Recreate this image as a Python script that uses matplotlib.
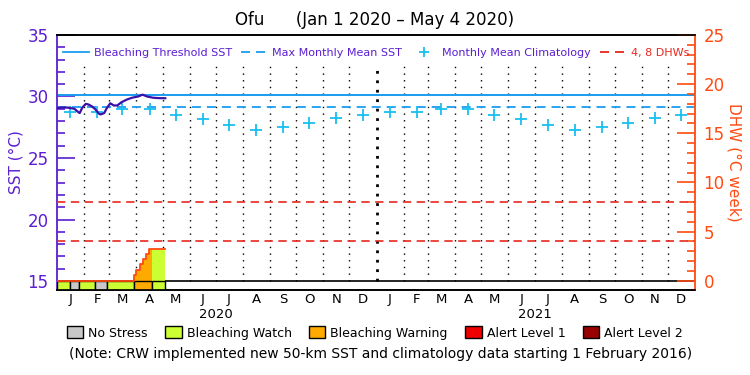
import numpy as np
import matplotlib
matplotlib.use('Agg')
import matplotlib.pyplot as plt
import matplotlib.dates as mdates
import matplotlib.transforms as mtransforms
from matplotlib.patches import Patch
from matplotlib.lines import Line2D

# colours
purple = '#5B1ED2'
sst_col = '#3C10A8'
blue = '#1A9CF0'
cyan = '#18C0F0'
red = '#E8281E'
orange_axis = '#FF4A12'

start = np.datetime64('2020-01-01')

# daily SST trace (days after Jan 1 2020)
sst_days = [0, 4, 8, 12, 16, 20, 24, 26, 29, 33, 36, 40, 44, 48, 50, 54, 57, 61,
            65, 69, 74, 80, 86, 93, 98, 103, 110, 116, 122, 124]
sst_vals = [29.05, 29.1, 29.1, 29.1, 29.05, 29.0, 28.75, 28.65, 29.1, 29.4, 29.35,
            29.2, 28.95, 28.6, 28.54, 28.65, 29.05, 29.45, 29.27, 29.27, 29.54,
            29.75, 29.9, 30.0, 30.15, 30.0, 29.9, 29.87, 29.86, 29.86]

bleach_threshold = 30.12
mmm = 29.12
dhw_levels = [4, 8]

# monthly mean climatology, mid-month, Jan 2020 .. Dec 2021
clim_months = np.arange('2020-01', '2022-01', dtype='datetime64[M]')
clim_vals = [28.73, 28.76, 29.02, 28.95, 28.52, 28.14, 27.65, 27.3, 27.51, 27.82, 28.24, 28.53,
             28.73, 28.76, 29.02, 28.95, 28.52, 28.14, 27.65, 27.3, 27.51, 27.82, 28.24, 28.53]

# degree heating weeks
dhw_dates = ['2020-01-01', '2020-03-29', '2020-04-01', '2020-04-05', '2020-04-08',
             '2020-04-12', '2020-04-15', '2020-04-19', '2020-05-04']
dhw_vals = [0, 0.6, 1.1, 1.7, 2.25, 2.75, 3.25, 3.25, 3.25]

# alert status bar
status_start = ['2020-01-01', '2020-01-16', '2020-01-26', '2020-02-13', '2020-02-27', '2020-03-29', '2020-04-19']
status_end = ['2020-01-16', '2020-01-26', '2020-02-13', '2020-02-27', '2020-03-29', '2020-04-19', '2020-05-04']
status_level = [1, 0, 1, 0, 1, 2, 1]

status_names = ['No Stress', 'Bleaching Watch', 'Bleaching Warning', 'Alert Level 1', 'Alert Level 2']
status_colors = ['#C8C8C8', '#CCFF33', '#FFAA00', '#EE0000', '#990000']

fig = plt.figure(figsize=(7.5, 3.75), dpi=100)
ax = fig.add_axes([0.076, 0.2267, 0.851, 0.68])
ax2 = ax.twinx()

sst_x = mdates.date2num(start + np.array(sst_days).astype('timedelta64[D]'))
clim_x = mdates.date2num(clim_months.astype('datetime64[D]') + np.timedelta64(15, 'D'))
dhw_x = mdates.date2num(np.array(dhw_dates, dtype='datetime64[D]'))
dhw_y = np.array(dhw_vals)

x0 = mdates.date2num(np.datetime64('2020-01-01'))
x1 = mdates.date2num(np.datetime64('2022-01-01'))
ax.set_xlim(x0, x1)
ax.set_ylim(14.27, 35)
ax2.set_ylim(-0.94, 25)

# month grid
month_starts = mdates.date2num(np.arange('2020-02', '2022-01', dtype='datetime64[M]').astype('datetime64[D]'))
new_year = mdates.date2num(np.datetime64('2021-01-01'))
for m in month_starts:
    if abs(m - new_year) < 1:
        ax.vlines(m, 15, 32.5, colors='k', linestyles=(0, (1, 2.4)), lw=2.0, zorder=1)
    else:
        ax.vlines(m, 15, 32.5, colors='k', linestyles=(0, (1, 3.8)), lw=1.0, zorder=1)

ax.axhline(bleach_threshold, color=blue, lw=1.4, zorder=2)
ax.axhline(mmm, color=blue, lw=1.3, dashes=(5, 3.3), zorder=2)
ax.plot(clim_x, clim_vals, '+', color=cyan, ms=8, mew=1.3, zorder=3)
ax.plot(sst_x, sst_vals, color=sst_col, lw=1.6, zorder=4)
ax.axhline(15, color='k', lw=1.2, zorder=5)

for lvl in dhw_levels:
    ax2.axhline(lvl, color=red, lw=1.2, dashes=(5, 3.3))

# dhw fill coloured by alert status
for s, e, lev in zip(status_start, status_end, status_level):
    sx = mdates.date2num(np.datetime64(s))
    ex = mdates.date2num(np.datetime64(e))
    mask = (dhw_x >= sx) & (dhw_x <= ex)
    ax2.fill_between(dhw_x, 0, dhw_y, where=mask, step='post', color=status_colors[lev], lw=0)
    ax2.bar(sx, -ax2.get_ylim()[0], width=ex - sx, bottom=ax2.get_ylim()[0], align='edge',
            color=status_colors[lev], edgecolor='k', lw=1.0)
ax2.step(dhw_x, dhw_y, where='post', color=orange_axis, lw=1.3)

# spines
ax.spines['right'].set_visible(False)
ax2.spines['left'].set_visible(False)
ax.spines['left'].set_color(purple)
ax.spines['left'].set_linewidth(1.3)
ax2.spines['right'].set_color(orange_axis)
ax2.spines['right'].set_linewidth(1.3)
for sp in ['top', 'bottom']:
    ax.spines[sp].set_linewidth(1.2)
    ax2.spines[sp].set_linewidth(1.2)

ax.set_yticks([15, 20, 25, 30, 35])
ax.set_yticks(np.arange(15, 36, 1), minor=True)
ax.tick_params(axis='y', which='major', direction='in', length=13, width=1.2, color=purple,
               labelcolor=purple, labelsize=12, pad=6)
ax.tick_params(axis='y', which='minor', direction='in', length=6, width=1.2, color=purple)

ax2.set_yticks([0, 5, 10, 15, 20, 25])
ax2.set_yticks(np.arange(0, 26, 1), minor=True)
ax2.tick_params(axis='y', which='major', direction='in', length=13, width=1.2, color=orange_axis,
                labelcolor=orange_axis, labelsize=12, pad=6)
ax2.tick_params(axis='y', which='minor', direction='in', length=6, width=1.2, color=orange_axis)

ax.xaxis.set_major_locator(mdates.MonthLocator())
ax.xaxis.set_major_formatter(plt.NullFormatter())
ax.xaxis.set_minor_locator(mdates.MonthLocator(bymonthday=16))
ax.xaxis.set_minor_formatter(plt.FuncFormatter(lambda v, p: mdates.num2date(v).strftime('%b')[0]))
ax.tick_params(axis='x', which='both', length=0, labelsize=9.5, pad=2)

ax.set_ylabel('SST (°C)', color=purple, fontsize=11, labelpad=3)
ax2.set_ylabel('DHW (°C week)', color=orange_axis, fontsize=11, rotation=270, labelpad=12)

trans = mtransforms.blended_transform_factory(ax.transData, ax.transAxes)
for yr in ['2020', '2021']:
    ax.text(mdates.date2num(np.datetime64(yr + '-07-01')), -0.095, yr, transform=trans,
            ha='center', va='center', fontsize=9.5)

handles = [Line2D([], [], color=blue, lw=1.3),
           Line2D([], [], color=blue, lw=1.3, dashes=(5, 3.3)),
           Line2D([], [], color=cyan, marker='+', ls='', ms=7, mew=1.3),
           Line2D([], [], color=red, lw=1.3, dashes=(5, 3.3))]
labels = ['Bleaching Threshold SST', 'Max Monthly Mean SST', 'Monthly Mean Climatology', '4, 8 DHWs']
ax2.legend(handles, labels, loc='upper center', bbox_to_anchor=(0.5, 0.99), ncol=4, frameon=False,
           fontsize=8, handlelength=2.3, handletextpad=0.5, columnspacing=0.8,
           labelcolor=[purple, purple, purple, red])

patches = [Patch(facecolor=c, edgecolor='k', lw=1) for c in status_colors]
fig.legend(patches, status_names, loc='center', bbox_to_anchor=(0.5, 0.112), ncol=5, frameon=False,
           fontsize=9, handlelength=1.3, handleheight=1.1, handletextpad=0.4, columnspacing=1.4)

fig.text(0.507, 0.056, '(Note: CRW implemented new 50-km SST and climatology data starting 1 February 2016)',
         ha='center', va='center', fontsize=10)
fig.text(0.5, 0.947, 'Ofu      (Jan 1 2020 – May 4 2020)', ha='center', va='center', fontsize=12)

fig.savefig('out.png', dpi=100)
